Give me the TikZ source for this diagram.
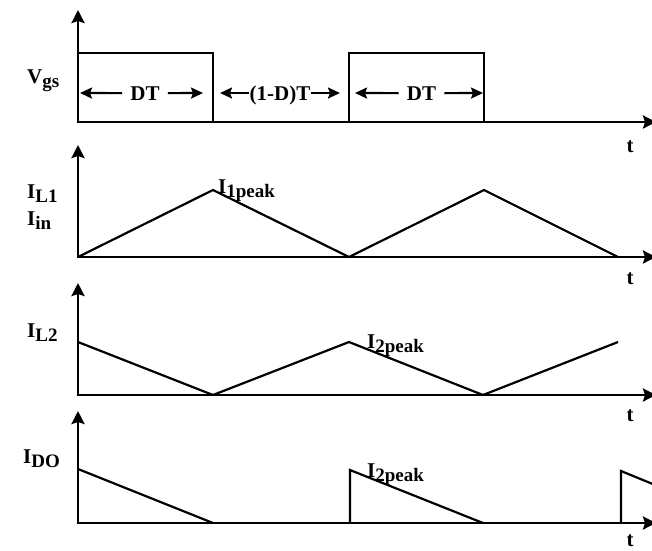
\documentclass[tikz,border=0pt]{standalone}
\usepackage{fontspec}
\setmainfont{Liberation Serif}
\usetikzlibrary{arrows.meta}
% lowered subscript used in the signal names
\newcommand{\lowsub}[1]{\raisebox{-4pt}{\fontsize{19}{19}\selectfont #1}}

\begin{document}
\begin{tikzpicture}[x=1pt,y=-1pt,
  axis/.style={line width=2.6pt,-{Stealth[length=13pt,width=13pt,inset=2pt]}},
  wave/.style={line width=2.2pt,line join=miter},
  span/.style={line width=2.2pt,-{Stealth[length=12pt,width=11pt,inset=2pt]}},
  lbl/.style={font=\fontsize{21}{21}\selectfont\bfseries,inner sep=0pt,anchor=base west},
  tlbl/.style={font=\fontsize{21}{21}\selectfont\bfseries,inner sep=0pt,anchor=base}]
\useasboundingbox (0,0) rectangle (652,550);

% origins of the four time axes
\coordinate (o1) at (78,122);
\coordinate (o2) at (78,257);
\coordinate (o3) at (78,395);
\coordinate (o4) at (78,523);

% axes
\foreach \o in {o1,o2,o3,o4}{
  \draw[axis] (\o) -- ++(0,-112);
  \draw[axis] ([xshift=-1.3pt]\o) -- (656,0 |- \o);
}

% gate signal
\draw[wave] (78,53) -- (213,53) -- (213,122);
\draw[wave] (349,122) -- (349,53) -- (484,53) -- (484,122);

% inductor L1 / input current
\draw[wave] (o2) -- (213,190) -- (349,257) -- (484,190) -- (618,257);

% inductor L2 current
\draw[wave] (78,342) -- (213,395) -- (349,342) -- (483,395) -- (618,342);

% diode current
\draw[wave] (78,469) -- (213,523);
\draw[wave] (350,523) -- (350,470) -- (483,523);
\draw[wave] (621,523) -- (621,471) -- (660,487);

% signal names
\node[lbl] (vgs) at (27,83) {V\lowsub{gs}};
\node[lbl] (il1) at (27,198) {I\lowsub{L1}};
\node[lbl] (iin) at (27,225) {I\lowsub{in}};
\node[lbl] (pk1) at (218,193) {I\lowsub{1peak}};
\node[lbl] (il2) at (27,337) {I\lowsub{L2}};
\node[lbl] (pk2) at (367,348) {I\lowsub{2peak}};
\node[lbl] (ido) at (23,463) {I\lowsub{DO}};
\node[lbl] (pk3) at (367,477) {I\lowsub{2peak}};

% time labels
\node[tlbl] (t1) at (630,152) {t};
\node[tlbl] (t2) at (630,284) {t};
\node[tlbl] (t3) at (630,421) {t};
\node[tlbl] (t4) at (630,546) {t};

% interval markers
\node[tlbl] (dta) at (145,100) {DT};
\node[tlbl] (dmid) at (280,100) {(1-D)T};
\node[tlbl] (dtb) at (421.5,100) {DT};
\draw[span] ([xshift=-8pt]dta.west) -- (80,93);
\draw[span] ([xshift=8pt]dta.east) -- (203,93);
\draw[span] (dmid.west |- 0,93) -- (220,93);
\draw[span] (dmid.east |- 0,93) -- (340,93);
\draw[span] ([xshift=-8pt]dtb.west) -- (355,93);
\draw[span] ([xshift=8pt]dtb.east) -- (483,93);
\end{tikzpicture}
\end{document}
